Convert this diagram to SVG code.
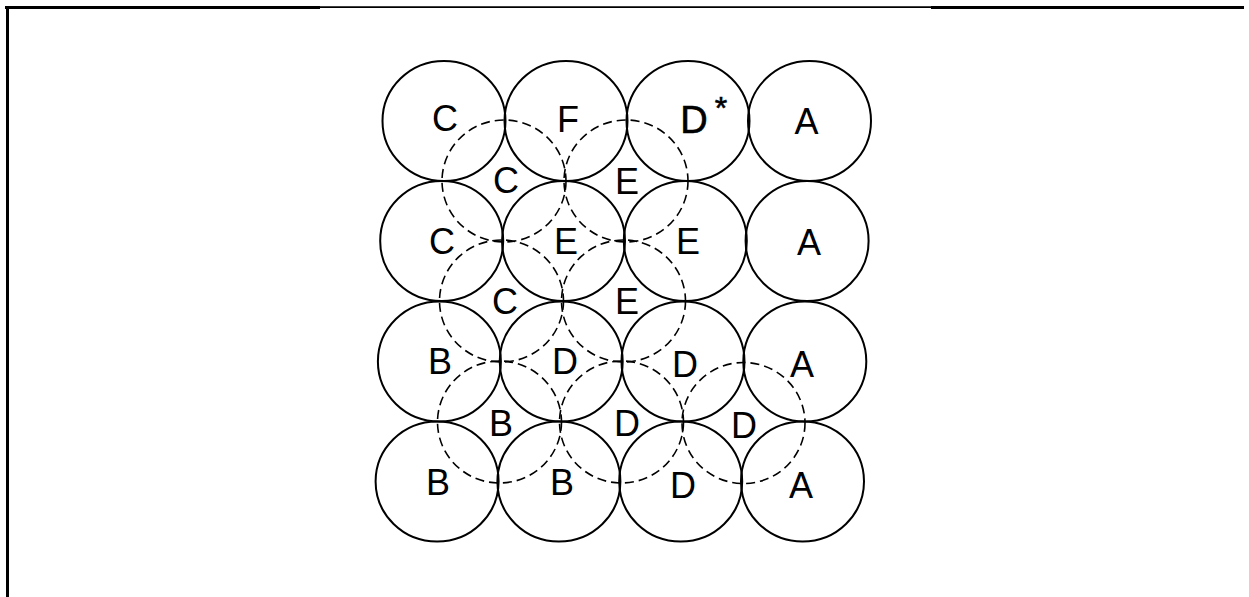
<svg xmlns="http://www.w3.org/2000/svg" width="1249" height="597" viewBox="0 0 1249 597">
<style>
.s{fill:none;stroke:#000;stroke-width:2}
.d{fill:none;stroke:#000;stroke-width:1.6;stroke-dasharray:9 5}
text{font-family:"Liberation Sans",Arial,sans-serif;font-size:36px;fill:#000;text-anchor:middle}
.b{stroke:#000;stroke-width:0.6}
</style>
<rect width="1249" height="597" fill="#fff"/>
<g id="frame">
<line x1="5" y1="7.5" x2="320" y2="7.5" stroke="#000" stroke-width="3"/>
<line x1="320" y1="7.2" x2="931" y2="7.2" stroke="#000" stroke-width="1.8"/>
<line x1="931" y1="7.5" x2="1244" y2="7.5" stroke="#000" stroke-width="3"/>
<line x1="7.5" y1="6" x2="7.5" y2="597" stroke="#000" stroke-width="3"/>
</g>
<g id="solid">
<ellipse class="s" cx="444" cy="121" rx="61.5" ry="60"/>
<ellipse class="s" cx="566" cy="121" rx="61.5" ry="60"/>
<ellipse class="s" cx="688" cy="121" rx="61.5" ry="60"/>
<ellipse class="s" cx="809.5" cy="121" rx="61.5" ry="60"/>
<ellipse class="s" cx="441.7" cy="241" rx="61.5" ry="60"/>
<ellipse class="s" cx="563.5" cy="241" rx="61.5" ry="60"/>
<ellipse class="s" cx="685.3" cy="241" rx="61.5" ry="60"/>
<ellipse class="s" cx="807.1" cy="241" rx="61.5" ry="60"/>
<ellipse class="s" cx="439.4" cy="361.5" rx="61.5" ry="60"/>
<ellipse class="s" cx="561.2" cy="361.5" rx="61.5" ry="60"/>
<ellipse class="s" cx="683" cy="361.5" rx="61.5" ry="60"/>
<ellipse class="s" cx="804.8" cy="361.5" rx="61.5" ry="60"/>
<ellipse class="s" cx="437.1" cy="481.5" rx="61.5" ry="60"/>
<ellipse class="s" cx="558.9" cy="481.5" rx="61.5" ry="60"/>
<ellipse class="s" cx="680.7" cy="481.5" rx="61.5" ry="60"/>
<ellipse class="s" cx="802.5" cy="481.5" rx="61.5" ry="60"/>
</g>
<g id="dashed">
<ellipse class="d" cx="504" cy="181" rx="62" ry="61"/>
<ellipse class="d" cx="626" cy="181" rx="62" ry="61"/>
<ellipse class="d" cx="501.5" cy="301" rx="62" ry="61"/>
<ellipse class="d" cx="623.5" cy="301" rx="62" ry="61"/>
<ellipse class="d" cx="499.5" cy="422" rx="62" ry="61"/>
<ellipse class="d" cx="621.5" cy="422" rx="62" ry="61"/>
<ellipse class="d" cx="743.5" cy="423" rx="61.5" ry="60.5"/>
</g>
<g id="labels">
<text x="445" y="131">C</text>
<text x="568" y="132">F</text>
<text x="694" y="133" class="b" style="font-size:38px">D</text>
<text x="721" y="119" style="font-size:32px" class="b">*</text>
<text x="806.5" y="134">A</text>
<text x="506" y="193">C</text>
<text x="627" y="194">E</text>
<text x="442" y="254">C</text>
<text x="566" y="254">E</text>
<text x="688" y="254">E</text>
<text x="809" y="255">A</text>
<text x="505" y="314">C</text>
<text x="627" y="314">E</text>
<text x="440" y="374">B</text>
<text x="565" y="374">D</text>
<text x="685" y="377">D</text>
<text x="802" y="377">A</text>
<text x="501" y="436">B</text>
<text x="627" y="436">D</text>
<text x="744" y="438">D</text>
<text x="438" y="495">B</text>
<text x="562" y="495">B</text>
<text x="683" y="498">D</text>
<text x="801" y="498">A</text>
</g>
</svg>
